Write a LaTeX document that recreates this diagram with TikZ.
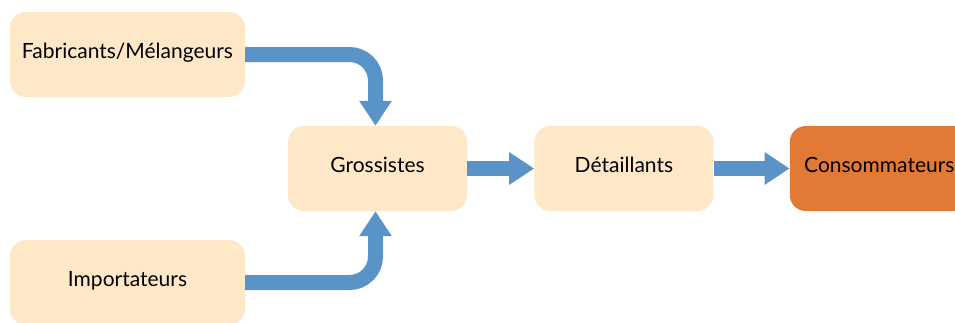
\documentclass[tikz,border=0pt]{standalone}
\usepackage{fontspec}
\setmainfont{Lato}
\usetikzlibrary{positioning,arrows.meta}
\definecolor{peach}{HTML}{FFE8C8}
\definecolor{flowblue}{HTML}{5A93C8}
\definecolor{consorange}{HTML}{E27A36}
\tikzset{
  actor/.style={rounded corners=16pt, fill=peach, minimum width=235pt, minimum height=85pt, inner sep=0pt, text height=12pt, text depth=4pt, font=\fontsize{21}{24}\selectfont},
  trade/.style={actor, minimum width=179pt},
  flow/.style={draw=flowblue, line width=15pt, rounded corners=26pt, -{Triangle[width=31pt,length=25pt]}}
}
\begin{document}
\begin{tikzpicture}[x=1pt, y=-1pt, node distance=67pt]
\useasboundingbox (0,0) rectangle (955,322);
\node [actor] (fab) at (127.5,54.5) {Fabricants/Mélangeurs};
\node [actor] (imp) at (127.5,282.5) {Importateurs};
\node [trade] (gross) at (377.5,168.5) {Grossistes};
\node [trade, right=67pt of gross] (det) {Détaillants};
\node [trade, right=76pt of det, fill=consorange] (cons) {Consommateurs};
\draw [flow] (fab.east) -| ([xshift=-2pt]gross.north);
\draw [flow] (imp.east) -| ([xshift=-2pt]gross.south);
\draw [flow, rounded corners=0pt] (gross.east) -- (det.west);
\draw [flow, rounded corners=0pt] (det.east) -- (cons.west);
\end{tikzpicture}
\end{document}
